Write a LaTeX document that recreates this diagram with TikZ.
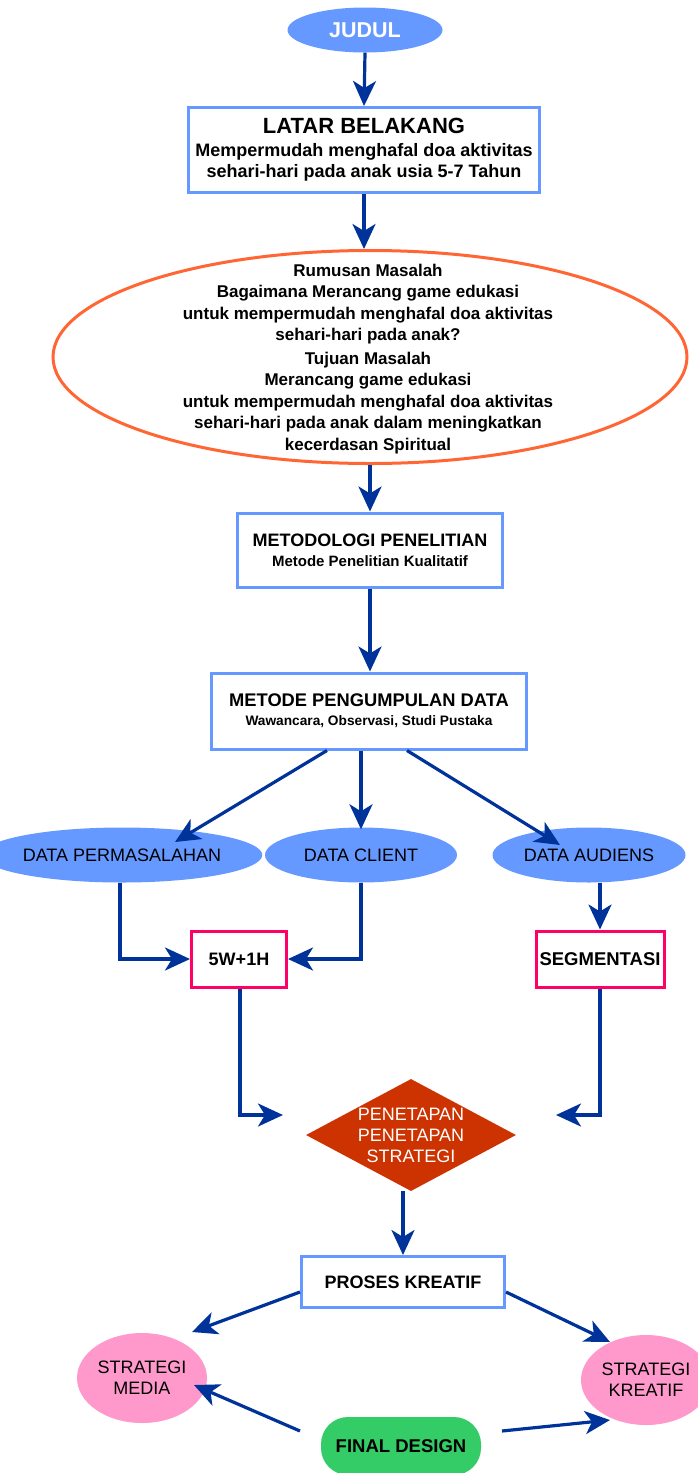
\documentclass[tikz,border=0pt]{standalone}
\usepackage{fontspec}
\setmainfont{Liberation Sans}
\usetikzlibrary{shapes.geometric,arrows.meta}
\definecolor{lblue}{HTML}{6699FF}
\definecolor{dblue}{HTML}{003399}
\definecolor{orng}{HTML}{FF6633}
\definecolor{pinkb}{HTML}{FF0066}
\definecolor{pinkf}{HTML}{FF99CC}
\definecolor{grn}{HTML}{33CC66}
\definecolor{rust}{HTML}{CC3300}
\newcommand{\fs}[2]{\fontsize{#1}{#2}\selectfont}
\begin{document}
\begin{tikzpicture}[x=1pt,y=-1pt,
  arr/.style={draw=dblue,line width=3.2pt,-{Stealth[length=25pt,width=23pt,inset=7pt]}},
  bluebox/.style={rectangle,draw=lblue,line width=3pt,fill=white,inner sep=0pt,align=center},
  pinkbox/.style={rectangle,draw=pinkb,line width=3pt,fill=white,inner sep=0pt,align=center},
  blueell/.style={ellipse,fill=lblue,inner sep=0pt,align=center},
  pinkell/.style={ellipse,fill=pinkf,inner sep=0pt,align=center},
]
\useasboundingbox (0,0) rectangle (697,1473);
\fill[white] (0,0) rectangle (697,1473);

% nodes
\node[blueell,minimum width=155pt,minimum height=45pt,text=white,font=\bfseries\fs{21.5}{24}] (judul) at (365,30) {JUDUL};

\node[bluebox,minimum width=351pt,minimum height=85pt,font=\bfseries\fs{18}{21}] (latar) at (364,150) {%
  {\fs{22}{24}LATAR BELAKANG}\\[2pt]
  Mempermudah menghafal doa aktivitas\\
  sehari-hari pada anak usia 5-7 Tahun};

\node[ellipse,draw=orng,line width=3pt,fill=white,minimum width=634pt,minimum height=213pt,inner sep=0pt] (rumusan) at (370,357) {};
\node[align=center,font=\bfseries\fs{17}{21.5},inner sep=0pt] (rumtext) at (368,359) {%
  Rumusan Masalah\\
  Bagaimana Merancang game edukasi\\
  untuk mempermudah menghafal doa aktivitas\\
  sehari-hari pada anak?\\[2pt]
  Tujuan Masalah\\
  Merancang game edukasi\\
  untuk mempermudah menghafal doa aktivitas\\
  sehari-hari pada anak dalam meningkatkan\\
  kecerdasan Spiritual};

\node[bluebox,minimum width=265pt,minimum height=74pt,font=\bfseries\fs{15}{20}] (metodologi) at (370,550) {%
  {\fs{18}{20}METODOLOGI PENELITIAN}\\
  Metode Penelitian Kualitatif};

\node[bluebox,minimum width=315pt,minimum height=76pt,font=\bfseries\fs{13.7}{19}] (metode) at (369,711) {%
  {\fs{18.3}{19}METODE PENGUMPULAN DATA}\\
  Wawancara, Observasi, Studi Pustaka};

\node[blueell,minimum width=228pt,minimum height=55pt,font=\fs{18}{20}] (dperm) at (122,855) {DATA PERMASALAHAN};
\node[blueell,minimum width=192pt,minimum height=55pt,font=\fs{18}{20}] (dclient) at (361,855) {DATA CLIENT};
\node[blueell,minimum width=193pt,minimum height=55pt,font=\fs{18}{20}] (daud) at (589,855) {DATA AUDIENS};

\node[pinkbox,minimum width=95pt,minimum height=56pt,font=\bfseries\fs{18}{20}] (w5) at (239,959) {5W+1H};
\node[pinkbox,minimum width=128pt,minimum height=56pt,font=\bfseries\fs{18.5}{20}] (seg) at (600,959) {SEGMENTASI};

\node[diamond,fill=rust,minimum width=210pt,minimum height=112pt,inner sep=0pt,aspect=1.85,text=white,align=center,font=\fs{18}{21}] (penetapan) at (411,1135) {PENETAPAN\\PENETAPAN\\STRATEGI};

\node[bluebox,minimum width=203pt,minimum height=51pt,font=\bfseries\fs{18}{20}] (proses) at (403,1282) {PROSES KREATIF};

\node[pinkell,minimum width=130pt,minimum height=90pt,font=\fs{18}{21}] (smedia) at (142,1378) {STRATEGI\\MEDIA};
\node[pinkell,minimum width=130pt,minimum height=90pt,font=\fs{18}{21}] (skreatif) at (646,1380) {STRATEGI\\KREATIF};

\node[rectangle,rounded corners=27pt,fill=grn,minimum width=160pt,minimum height=58pt,inner sep=0pt,font=\bfseries\fs{18.5}{20}] (final) at (401,1446) {FINAL DESIGN};

% helper coordinates
\coordinate (penL) at (283,1115);
\coordinate (penR) at (556,1115);

% connectors
\draw[arr] (judul.south) -- (latar.north);
\draw[arr] (latar.south) -- (latar.south |- rumusan.north);
\draw[arr] (rumusan.south -| metodologi.north) -- (metodologi.north);
\draw[arr] (metodologi.south) -- (metodologi.south |- metode.north);
\draw[arr] ([xshift=-42pt]metode.south) -- (175,842);
\draw[arr] (metode.south -| dclient.north) -- ([yshift=-2pt]dclient.north);
\draw[arr] ([xshift=38pt]metode.south) -- (560,845);
\draw[arr] (dperm.south -| 120,0) |- (w5.west);
\draw[arr] (dclient.south) |- (w5.east);
\draw[arr] (daud.south -| seg.north) -- (seg.north);
\draw[arr] (w5.south -| 240,0) |- (penL);
\draw[arr] (seg.south) |- (penR);
\draw[arr] (penetapan.south -| proses.north) -- (proses.north);
\draw[arr] ([yshift=-10pt]proses.west) -- (192,1332);
\draw[arr] ([yshift=-10pt]proses.east) -- (610,1342);
\draw[arr] (300,1431) -- (194,1385);
\draw[arr] (502,1431) -- (610,1420);
\end{tikzpicture}
\end{document}
